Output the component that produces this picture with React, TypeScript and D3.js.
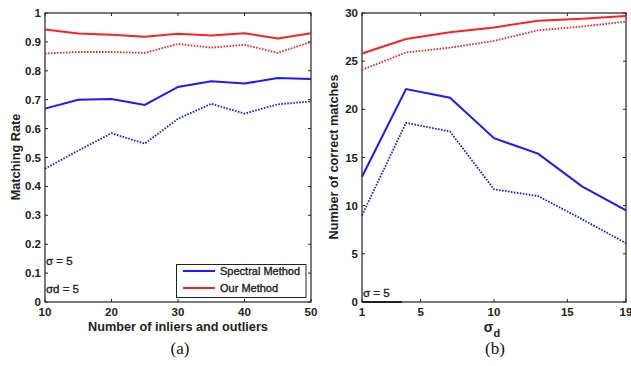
import React from "react";
import * as d3 from "d3";

const xA = [10, 15, 20, 25, 30, 35, 40, 45, 50];
const redSolidA = [0.943, 0.929, 0.925, 0.918, 0.928, 0.922, 0.93, 0.912, 0.93];
const redDotA = [0.86, 0.865, 0.865, 0.862, 0.893, 0.88, 0.89, 0.862, 0.9];
const blueSolidA = [0.669, 0.7, 0.702, 0.682, 0.744, 0.764, 0.756, 0.775, 0.772];
const blueDotA = [0.461, 0.524, 0.584, 0.548, 0.634, 0.686, 0.652, 0.684, 0.694];
const xTicksA = [10, 20, 30, 40, 50];
const yTicksA = [0, 0.1, 0.2, 0.3, 0.4, 0.5, 0.6, 0.7, 0.8, 0.9, 1];
const yTickLabelsA = ["0", "0.1", "0.2", "0.3", "0.4", "0.5", "0.6", "0.7", "0.8", "0.9", "1"];

const xB = [1, 4, 7, 10, 13, 16, 19];
const redSolidB = [25.8, 27.3, 28.0, 28.5, 29.2, 29.4, 29.7];
const redDotB = [24.1, 25.9, 26.4, 27.1, 28.2, 28.6, 29.1];
const blueSolidB = [13.0, 22.1, 21.2, 17.0, 15.4, 12.0, 9.5];
const blueDotB = [9.0, 18.6, 17.7, 11.7, 11.0, 8.6, 6.1];
const xTicksB = [1, 5, 10, 15, 19];
const yTicksB = [0, 5, 10, 15, 20, 25, 30];

const legendLabels = ["Spectral Method", "Our Method"];
const BLUE = "#1a1aff";
const RED = "#ff2020";
const FONT = "'Liberation Sans', Arial, sans-serif";

type Series = { vals: number[]; color: string; dotted: boolean };

function Panel(props: {
  left: number; right: number; top: number; bottom: number;
  xDomain: [number, number]; yDomain: [number, number];
  xs: number[]; series: Series[];
  xTicks: number[]; yTicks: number[]; yTickLabels?: string[];
}) {
  const { left, right, top, bottom, xDomain, yDomain, xs, series, xTicks, yTicks, yTickLabels } = props;
  const x = d3.scaleLinear().domain(xDomain).range([left, right]);
  const y = d3.scaleLinear().domain(yDomain).range([bottom, top]);
  const line = d3.line<number>().x((_, i) => x(xs[i])).y((v) => y(v));
  return (
    <g>
      <rect x={left} y={top} width={right - left} height={bottom - top} fill="white" stroke="#222" strokeWidth={1.2} />
      {xTicks.map((t) => (
        <g key={"xt" + t}>
          <line x1={x(t)} x2={x(t)} y1={bottom} y2={bottom - 3} stroke="#222" />
          <line x1={x(t)} x2={x(t)} y1={top} y2={top + 3} stroke="#222" />
          <text x={x(t)} y={bottom + 14} textAnchor="middle" fontSize={11.5} fontWeight="bold" fontFamily={FONT} fill="#222">{t}</text>
        </g>
      ))}
      {yTicks.map((t, i) => (
        <g key={"yt" + t}>
          <line x1={left} x2={left + 3} y1={y(t)} y2={y(t)} stroke="#222" />
          <line x1={right} x2={right - 3} y1={y(t)} y2={y(t)} stroke="#222" />
          <text x={left - 4} y={y(t) + 4} textAnchor="end" fontSize={11.5} fontWeight="bold" fontFamily={FONT} fill="#222">{yTickLabels ? yTickLabels[i] : t}</text>
        </g>
      ))}
      {series.map((s, i) => (
        <path key={i} d={line(s.vals) || ""} fill="none" stroke={s.color} strokeWidth={s.dotted ? 1.8 : 2}
          strokeDasharray={s.dotted ? "1.6,1.4" : undefined} />
      ))}
    </g>
  );
}

export default function App() {
  const top = 13, bottom = 302;
  const soft = { stroke: "#222", strokeWidth: 0.35 };
  return (
    <svg width={631} height={366} style={{ position: "absolute", left: 0, top: 0, background: "white" }}>
      <Panel left={45} right={311} top={top} bottom={bottom} xDomain={[10, 50]} yDomain={[0, 1]} xs={xA}
        series={[
          { vals: redSolidA, color: RED, dotted: false },
          { vals: redDotA, color: RED, dotted: true },
          { vals: blueSolidA, color: BLUE, dotted: false },
          { vals: blueDotA, color: BLUE, dotted: true },
        ]}
        xTicks={xTicksA} yTicks={yTicksA} yTickLabels={yTickLabelsA} />
      <text x={178} y={331} textAnchor="middle" fontSize={12.7} fontWeight="bold" fontFamily={FONT} fill="#222">Number of inliers and outliers</text>
      <text transform="translate(20,157) rotate(-90)" textAnchor="middle" fontSize={12.7} fontWeight="bold" fontFamily={FONT} fill="#222">Matching Rate</text>
      <text x={46} y={265} fontSize={11.5} fontFamily={FONT} fill="#222" {...soft}>σ = 5</text>
      <text x={46} y={293} fontSize={11.5} fontFamily={FONT} fill="#222" {...soft}>σd = 5</text>
      <g>
        <rect x={176.5} y={264.5} width={129.5} height={33} fill="white" stroke="#222" strokeWidth={1} />
        <line x1={183} x2={215} y1={271} y2={271} stroke={BLUE} strokeWidth={2} />
        <line x1={183} x2={215} y1={288} y2={288} stroke={RED} strokeWidth={2} />
        <text x={220} y={275} fontSize={11} fontFamily={FONT} fill="#222" {...soft}>{legendLabels[0]}</text>
        <text x={220} y={292} fontSize={11} fontFamily={FONT} fill="#222" {...soft}>{legendLabels[1]}</text>
      </g>
      <text x={180} y={354} textAnchor="middle" fontSize={17} fontFamily="'Liberation Serif', 'Times New Roman', serif" fill="#111">(a)</text>

      <Panel left={362} right={626} top={top} bottom={bottom} xDomain={[1, 19]} yDomain={[0, 30]} xs={xB}
        series={[
          { vals: redSolidB, color: RED, dotted: false },
          { vals: redDotB, color: RED, dotted: true },
          { vals: blueSolidB, color: BLUE, dotted: false },
          { vals: blueDotB, color: BLUE, dotted: true },
        ]}
        xTicks={xTicksB} yTicks={yTicksB} />
      <line x1={362} x2={402} y1={302} y2={302} stroke="#222" strokeWidth={2} />
      <text x={363} y={297} fontSize={11.5} fontFamily={FONT} fill="#222" {...soft}>σ = 5</text>
      <text x={492} y={332} textAnchor="middle" fontSize={14} fontWeight="bold" fontFamily={FONT} fill="#222">σ<tspan fontSize={11} dy={5}>d</tspan></text>
      <text transform="translate(338,157) rotate(-90)" textAnchor="middle" fontSize={12.7} fontWeight="bold" fontFamily={FONT} fill="#222">Number of correct matches</text>
      <text x={495} y={354} textAnchor="middle" fontSize={17} fontFamily="'Liberation Serif', 'Times New Roman', serif" fill="#111">(b)</text>
    </svg>
  );
}
